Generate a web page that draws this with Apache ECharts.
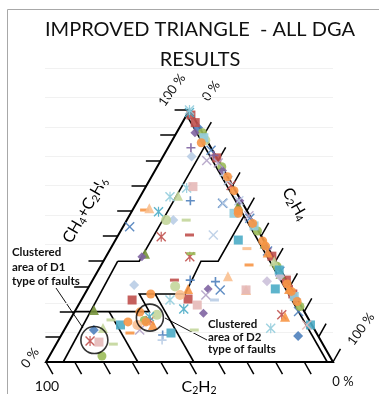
<!DOCTYPE html>
<html><head><meta charset="utf-8">
<script src="https://cdn.jsdelivr.net/npm/echarts@6/dist/echarts.min.js"></script>
<style>html,body{margin:0;padding:0;background:#fff}#c{width:379px;height:394px}</style>
</head><body><div id="c"></div>
<script>
// Ternary samples: [CH4+C2H6 %, C2H2 %]; C2H4 % is the remainder to 100.
const blueCross = [[63,7],[53.7,44],[28.6,25],[20,2],[84,0.5],[57,0.5],[44,0.8],[36,0.5]];
const bluePlus = [[64,17.7],[32.5,33.5],[31.9,25],[10.7,54]];
const blueDiamond = [[10.3,7],[12.7,77],[25,0.5],[93,0.5]];
const lightBlueDiamond = [[81.5,8.5],[56.3,27.5],[30.6,54]];
const redSquare = [[95,0.5],[81,0],[25,38],[32.5,0],[27,0.5],[24.6,57.7],[42,0.3],[98,0.5]];
const redAsterisk = [[49.7,35],[41.8,29],[18.7,8.5],[8.3,80.5],[16.5,55.5],[70,0.5]];
const redDash = [[50.4,24.8],[32.5,39],[30,0.5]];
const greenCircle = [[91,0],[77.5,0],[2.4,79.3],[16.5,57.5],[52,0.3],[38,0.5],[22,0.5]];
const greenTriangle = [[62,2],[43,44],[20.6,73],[47,0.3],[35,0.8]];
const lightGreenCircle = [[56.3,30],[30,40],[18.7,52],[88,0.5]];
const lightGreenDash = [[56.3,23],[16.7,69],[7.1,73],[12.7,42]];
const greenDash = [[43,28]];
const lightGreenTriangle = [[13.5,73.4],[66,21],[40,0.5]];
const purpleDiamond = [[91,2.6],[29,29],[19.3,35.5],[41.8,45.7],[76,0.5],[64,0.5]];
const purplePlus = [[85,7],[82,0.5],[45,0.5]];
const lightPurpleCross = [[80,4],[26.6,31],[12.7,61],[58,0.3],[79,0.5]];
const lightPurpleDiamond = [[32,7],[34,1.5]];
const tealSquare = [[48.4,8.8],[29,5.6],[14.7,66.7],[11.5,50.7],[14.7,0.5],[36.5,0.5]];
const tealAsterisk = [[59.6,31],[21,41.5],[18,55],[99,0.5]];
const lightBlueAsterisk = [[100,0],[69,16.5],[65.6,24],[13.4,15],[24.6,44.5]];
const lightBlueCross = [[63,6.7],[50.4,16.5],[72,0.5],[64,0.8]];
const lightBlueDash = [[24.6,29]];
const lightBluePlus = [[8.7,55.2],[74,1]];
const lightBlueSquare = [[89,0.5],[54,0.5],[26,0.5],[59,5]];
const orangeCircle = [[87,2.4],[73.5,0],[60,3],[59,3.5],[27,50],[15.9,57.2],[19.8,57.4],[15.9,63.5],[55,0.5],[46,0.5],[28,0.5],[24,0.5],[68,0.5],[48,0.5],[31,0.5]];
const orangeTriangle = [[29,36],[18,7.7],[14.7,55.4],[43.5,1],[29,0.8]];
const orangeDash = [[60.3,35.5],[38.5,10],[11.5,65]];
const lightOrangeDash = [[45,7.5]];
const lightOrangeTriangle = [[61,33.5],[34,19.6],[28.6,16]];
const salmonSquare = [[69.6,14],[28.6,16],[22.6,36],[7.9,77.6]];
const salmonCircle = [[14.7,60.8],[26.6,40]];
const salmonCross = [[14.7,1.8]];

// Zone boundaries, each a polyline of [CH4+C2H6 %, C2H2 %]
const zoneLines = [
  [[98,2],[0,2]],
  [[85.5,2],[40,47.5],[40,55]],
  [[40,55],[0,94]],
  [[20,80],[20,54],[27,54],[27,38],[40,26],[40,20],[58,2]],
  [[20,68],[0,68]],
  [[27,48.5],[0,48.5]]
];
// Cluster outlines: centre [CH4+C2H6 %, C2H2 %]
const clusterD1 = [[8.7,78.8]];
const clusterD2 = [[17.6,55]];

const tickPercents = [10,20,30,40,50,60,70,80,90,100];
const frame = [[100,0],[0,100],[0,0],[100,0]];

// ternary -> cartesian (x: 0..100 along the base, y: CH4+C2H6 height)
const toXY = ([ch4, c2h2]) => [100 - c2h2 - ch4 / 2, ch4];

const paths = {
  cross: 'path://M0,1L1,0L5,4L9,0L10,1L6,5L10,9L9,10L5,6L1,10L0,9L4,5Z',
  plus: 'path://M4.1,0H5.9V4.1H10V5.9H5.9V10H4.1V5.9H0V4.1H4.1Z',
  star: 'path://M0,1L1,0L5,4L9,0L10,1L6,5L10,9L9,10L5,6L1,10L0,9L4,5Z M4.4,0H5.6V10H4.4Z'
};
const C = {
  blue:'#4F81BD', red:'#C0504D', green:'#9BBB59', dgreen:'#77933C', purple:'#8064A2', teal:'#4BACC6', orange:'#F79646',
  lblue:'#B9CDE5', lgreen:'#C3D69B', lpurple:'#B3A2C7', lpurple2:'#CCC1DA', lteal:'#93CDDD', lorange:'#FAC090', salmon:'#E6B9B8'
};
const markerSeries = [
  [blueCross, paths.cross, C.blue, 10],
  [bluePlus, paths.plus, C.blue, 9],
  [blueDiamond, 'diamond', C.blue, 10],
  [lightBlueDiamond, 'diamond', C.lblue, 10],
  [redSquare, 'rect', C.red, 9],
  [redAsterisk, paths.star, C.red, 10],
  [redDash, 'rect', C.red, [9,3]],
  [greenCircle, 'circle', C.green, 9],
  [greenTriangle, 'triangle', C.dgreen, 10],
  [lightGreenCircle, 'circle', C.lgreen, 10],
  [lightGreenDash, 'rect', C.lgreen, [9,3]],
  [greenDash, 'rect', C.green, [9,3]],
  [lightGreenTriangle, 'triangle', C.lgreen, 10],
  [purpleDiamond, 'diamond', C.purple, 9],
  [purplePlus, paths.plus, C.purple, 9],
  [lightPurpleCross, paths.cross, C.lpurple, 10],
  [lightPurpleDiamond, 'diamond', C.lpurple2, 10],
  [tealSquare, 'rect', C.teal, 9],
  [tealAsterisk, paths.star, C.teal, 10],
  [lightBlueAsterisk, paths.star, C.lteal, 10],
  [lightBlueCross, paths.cross, C.lblue, 10],
  [lightBlueDash, 'rect', C.lblue, [9,3]],
  [lightBluePlus, paths.plus, C.lblue, 9],
  [lightBlueSquare, 'rect', C.lteal, 9],
  [orangeCircle, 'circle', C.orange, 9],
  [orangeTriangle, 'triangle', C.orange, 10],
  [orangeDash, 'rect', C.orange, [9,3]],
  [lightOrangeDash, 'rect', C.lorange, [9,3]],
  [lightOrangeTriangle, 'triangle', C.lorange, 10],
  [salmonSquare, 'rect', C.salmon, 9],
  [salmonCircle, 'circle', C.lorange, 10],
  [salmonCross, paths.cross, C.salmon, 10]
];

// tick segments, offsets in axis units
const leftTicks = tickPercents.map(p => { const a = toXY([p, 100 - p]); return {coords: [a, [a[0] - 5.2, a[1]]]}; });
const rightTicks = tickPercents.map(p => { const a = toXY([100 - p, 0]); return {coords: [a, [a[0] + 2.6, a[1] + 5.2]]}; });
const bottomTicks = tickPercents.map(p => { const a = toXY([0, p]); return {coords: [a, [a[0] + 2.4, a[1] - 4.8]]}; });

const series = [];
series.push({type:'lines', coordinateSystem:'cartesian2d', polyline:true, silent:true, z:3,
  lineStyle:{color:'#000', width:1.6, opacity:1},
  data: zoneLines.map(l => ({coords: l.map(toXY)}))});
series.push({type:'lines', coordinateSystem:'cartesian2d', silent:true, z:3,
  lineStyle:{color:'#000', width:1.5, opacity:1},
  data: leftTicks.concat(rightTicks, bottomTicks)});
series.push({type:'lines', coordinateSystem:'cartesian2d', polyline:true, silent:true, z:4,
  lineStyle:{color:'#000', width:2, opacity:1, join:'miter'},
  data: [{coords: frame.map(toXY)}]});
markerSeries.forEach(([d, sym, col, size]) => series.push({
  type:'scatter', data: d.map(toXY), symbol: sym, symbolSize: size, z:5,
  itemStyle:{color: col, opacity: 0.9}
}));
[clusterD1, clusterD2].forEach(d => series.push({
  type:'scatter', data: d.map(toXY), symbol:'circle', symbolSize: 27, z:6, silent:true,
  itemStyle:{color:'rgba(0,0,0,0)', borderColor:'#000', borderWidth:1.6}
}));

const chart = echarts.init(document.getElementById('c'), null, {renderer:'canvas'});
const FONT = 'Lato, "Open Sans", sans-serif';
const rich = {
  b:{fontSize:16, fontFamily:FONT, color:'#111', lineHeight:22},
  s:{fontSize:10.5, fontFamily:FONT, color:'#111', lineHeight:22, padding:[8,0,0,0]}
};
const txt = (text, x, y, size, rot, extra) => Object.assign({type:'text', x, y, rotation: rot || 0,
  style:{text, font: size + 'px ' + FONT, fill:'#111', align:'center', verticalAlign:'middle'}}, extra || {});

chart.setOption({
  animation:false,
  grid:[{left:0, right:0, top:0, bottom:0}, {left:45, width:288, top:68, height:294}],
  xAxis:[{type:'value', min:-16.03, max:116.03, show:false},
         {type:'value', gridIndex:1, min:0, max:1, show:false}],
  yAxis:[{type:'value', min:-12.70, max:143.65, show:false},
         {type:'value', gridIndex:1, min:0, max:10, interval:1, axisLine:{show:false}, axisTick:{show:false},
          axisLabel:{show:false}, splitLine:{lineStyle:{color:'#f1f1f1', width:1}}}],
  series,
  graphic:[
    {type:'line', shape:{x1:7.5, y1:9.5, x2:379, y2:9.5}, style:{stroke:'#a8a8a8', lineWidth:1}},
    {type:'line', shape:{x1:7.5, y1:9.5, x2:7.5, y2:394}, style:{stroke:'#a8a8a8', lineWidth:1}},
    txt('IMPROVED TRIANGLE  - ALL DGA', 200, 30, 20),
    txt('RESULTS', 200, 60, 20),
    txt('100 %', 172, 90, 13, Math.PI * 0.3),
    txt('0 %', 211, 91, 13, Math.PI * 0.3),
    txt('0 %', 30, 358, 13, Math.PI * 0.3),
    txt('100', 47, 386, 14),
    txt('100 %', 361, 329, 13, Math.PI * 0.3),
    txt('0 %', 343, 382, 13),
    {type:'text', x:85, y:210, rotation: Math.PI / 3,
      style:{text:'{b|CH}{s|4}{b|+C}{s|2}{b|H}{s|6}', rich, align:'center', verticalAlign:'middle'}},
    {type:'text', x:295, y:204, rotation: -Math.PI / 3,
      style:{text:'{b|C}{s|2}{b|H}{s|4}', rich, align:'center', verticalAlign:'middle'}},
    {type:'text', x:199, y:387,
      style:{text:'{b|C}{s|2}{b|H}{s|2}', rich, align:'center', verticalAlign:'middle'}},
    {type:'text', x:12, y:267, style:{text:'Clustered\narea of D1\ntype of faults', font:'bold 11.5px ' + FONT, fill:'#111', lineHeight:14.5, align:'left', verticalAlign:'middle'}},
    {type:'text', x:208, y:337, style:{text:'Clustered\narea of D2\ntype of faults', font:'bold 11.5px ' + FONT, fill:'#111', lineHeight:12.5, align:'left', verticalAlign:'middle'}},
    {type:'polyline', shape:{points:[[56,288],[83,328]]}, style:{stroke:'#111', lineWidth:1}},
    {type:'polyline', shape:{points:[[207,340],[165,318]]}, style:{stroke:'#111', lineWidth:1}}
  ]
});
</script></body></html>
